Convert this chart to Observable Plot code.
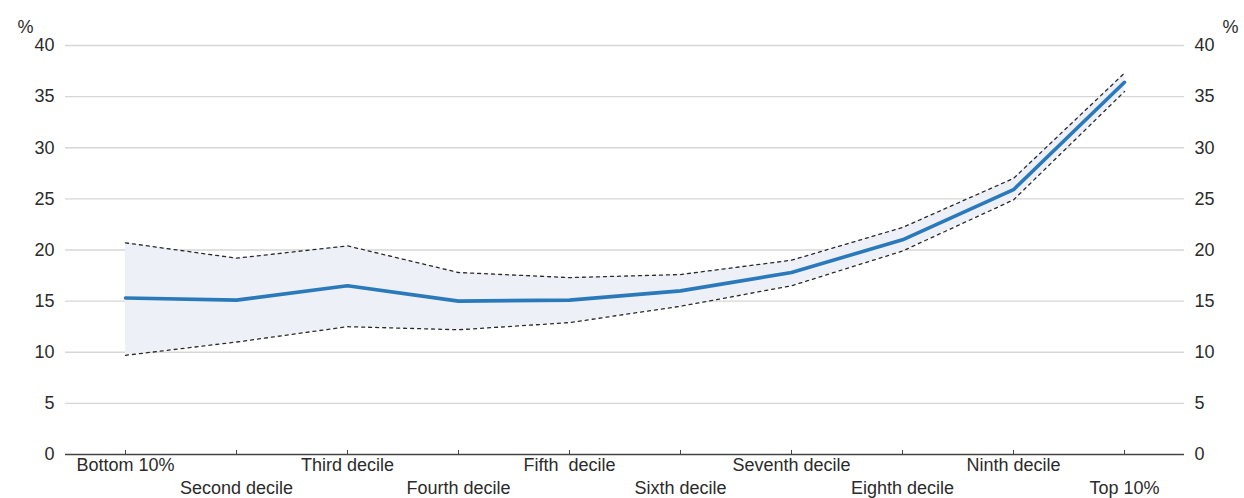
<!DOCTYPE html>
<html>
<head>
<meta charset="utf-8">
<script src="https://cdn.jsdelivr.net/npm/d3@7"></script>
<script src="https://cdn.jsdelivr.net/npm/@observablehq/plot@0.6"></script>
<style>
  html, body { margin: 0; padding: 0; background: #fff; }
  #chart { width: 1244px; height: 498px; }
</style>
</head>
<body>
<div id="chart"></div>
<script>
const categories = ["Bottom 10%", "Second decile", "Third decile", "Fourth decile", "Fifth  decile",
  "Sixth decile", "Seventh decile", "Eighth decile", "Ninth decile", "Top 10%"];
const central = [15.3, 15.1, 16.5, 15.0, 15.1, 16.0, 17.8, 21.0, 25.9, 36.4];
const upper   = [20.7, 19.2, 20.4, 17.8, 17.3, 17.6, 19.0, 22.2, 27.0, 37.3];
const lower   = [ 9.7, 11.0, 12.5, 12.2, 12.9, 14.5, 16.5, 19.9, 24.9, 35.5];
const yTicks = [0, 5, 10, 15, 20, 25, 30, 35, 40];

const data = categories.map((c, i) => ({cat: c, mid: central[i], hi: upper[i], lo: lower[i]}));
const row1 = categories.filter((d, i) => i % 2 === 0);
const row2 = categories.filter((d, i) => i % 2 === 1);

const font = "'Liberation Sans', Arial, sans-serif";
const textColor = "#2b2b2b";

const chart = Plot.plot({
  width: 1244,
  height: 498,
  marginLeft: 65,
  marginRight: 60,
  marginTop: 45,
  marginBottom: 44,
  style: {fontFamily: font, fontSize: "18px", color: textColor, background: "#fff", overflow: "visible"},
  x: {type: "point", domain: categories, padding: 0.5, axis: null},
  y: {domain: [0, 40], axis: null},
  marks: [
    Plot.gridY(yTicks.filter(d => d > 0), {stroke: "#d6d6d6", strokeOpacity: 1, strokeWidth: 1.3}),
    Plot.areaY(data, {x: "cat", y1: "lo", y2: "hi", fill: "#edf0f6", curve: "linear"}),
    Plot.lineY(data, {x: "cat", y: "hi", stroke: "#2a2a2a", strokeWidth: 1.3, strokeDasharray: "3,4"}),
    Plot.lineY(data, {x: "cat", y: "lo", stroke: "#2a2a2a", strokeWidth: 1.3, strokeDasharray: "3,4"}),
    Plot.lineY(data, {x: "cat", y: "mid", stroke: "#2a7abb", strokeWidth: 3.6}),
    Plot.ruleY([0], {stroke: "#444", strokeWidth: 1.5}),
    Plot.axisY(yTicks, {anchor: "left", tickSize: 0, tickPadding: 11, fontSize: 18, label: null, fill: textColor}),
    Plot.axisY(yTicks, {anchor: "right", tickSize: 0, tickPadding: 10, fontSize: 18, label: null, fill: textColor}),
    Plot.axisX(categories, {anchor: "bottom", tickSize: -4, tickFormat: () => "", label: null, stroke: "#444"}),
    Plot.axisX(row1, {anchor: "bottom", tickSize: 0, tickPadding: 4, fontSize: 18, label: null, fill: textColor}),
    Plot.axisX(row2, {anchor: "bottom", tickSize: 0, tickPadding: 27, fontSize: 18, label: null, fill: textColor}),
    Plot.text(["%"], {frameAnchor: "top-left", dx: -48, dy: -25, fontSize: 18, fill: textColor}),
    Plot.text(["%"], {frameAnchor: "top-right", dx: 54, dy: -25, fontSize: 18, fill: textColor})
  ]
});
document.getElementById("chart").appendChild(chart);
</script>
</body>
</html>
